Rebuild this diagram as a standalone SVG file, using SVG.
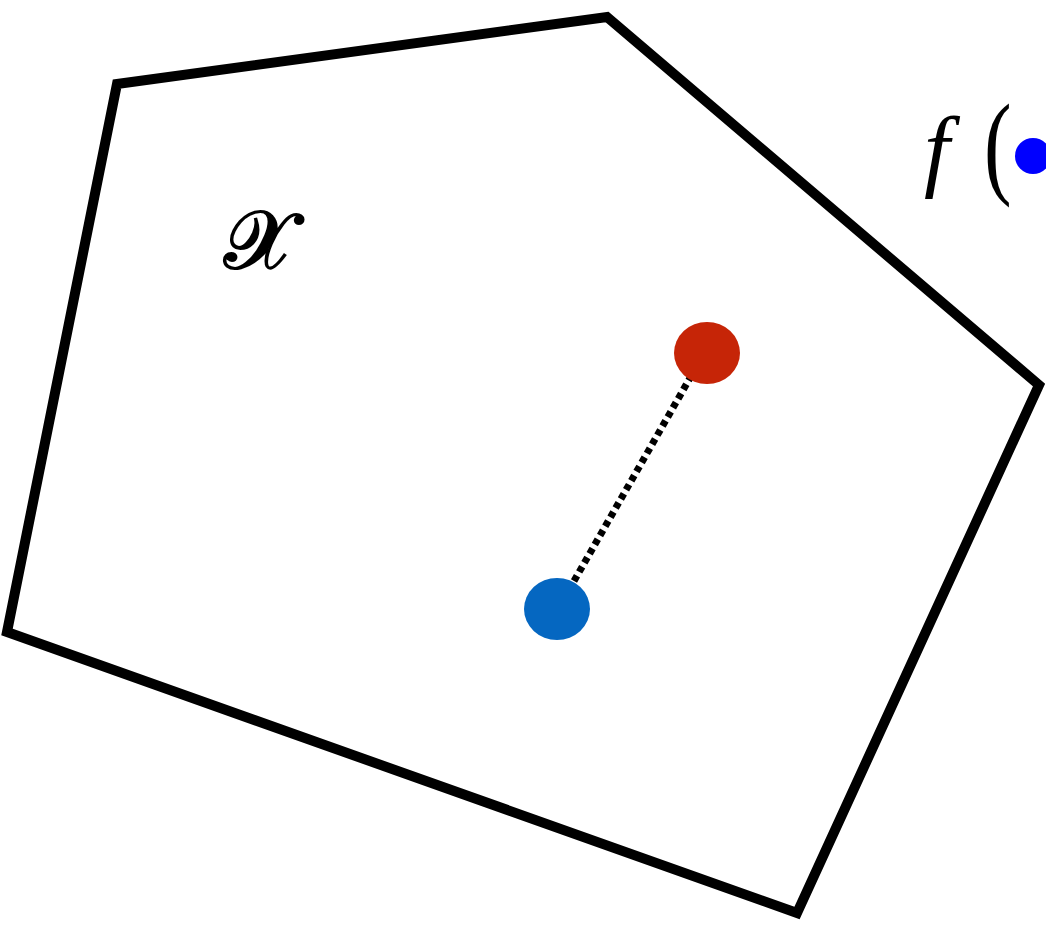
<svg xmlns="http://www.w3.org/2000/svg" width="1046" height="925" viewBox="0 0 1046 925">
<style>
.math{font-family:"Liberation Serif","DejaVu Serif",serif;fill:#000}
.it{font-style:italic}
</style>
<rect width="1046" height="925" fill="#fff"/>
<g id="region">
<polygon points="117,84 607,17 1039,385 797,913 7,632" fill="none" stroke="#000" stroke-width="10" stroke-linejoin="miter"/>
</g>
<g id="label-X">
<text x="224" y="268" class="math" font-size="82" stroke="#000" stroke-width="2.2">𝒳</text>
</g>
<g id="connectors">
<line x1="574" y1="581" x2="690" y2="378" stroke="#000" stroke-width="7" stroke-dasharray="6 4.5"/>
</g>
<g id="point-red">
<ellipse cx="707" cy="353" rx="33" ry="31" fill="#C62507"/>
</g>
<g id="point-blue">
<ellipse cx="557" cy="609" rx="33" ry="31" fill="#0567C1"/>
</g>
<g id="label-f">
<text x="924" y="180" class="math it" font-size="92">f</text>
<text x="984" y="183" class="math" font-size="92" transform="translate(984 183) scale(0.9 1.25) translate(-984 -183)">(</text>
<circle cx="1033" cy="156" r="18" fill="#0000FF"/>
</g>
</svg>
